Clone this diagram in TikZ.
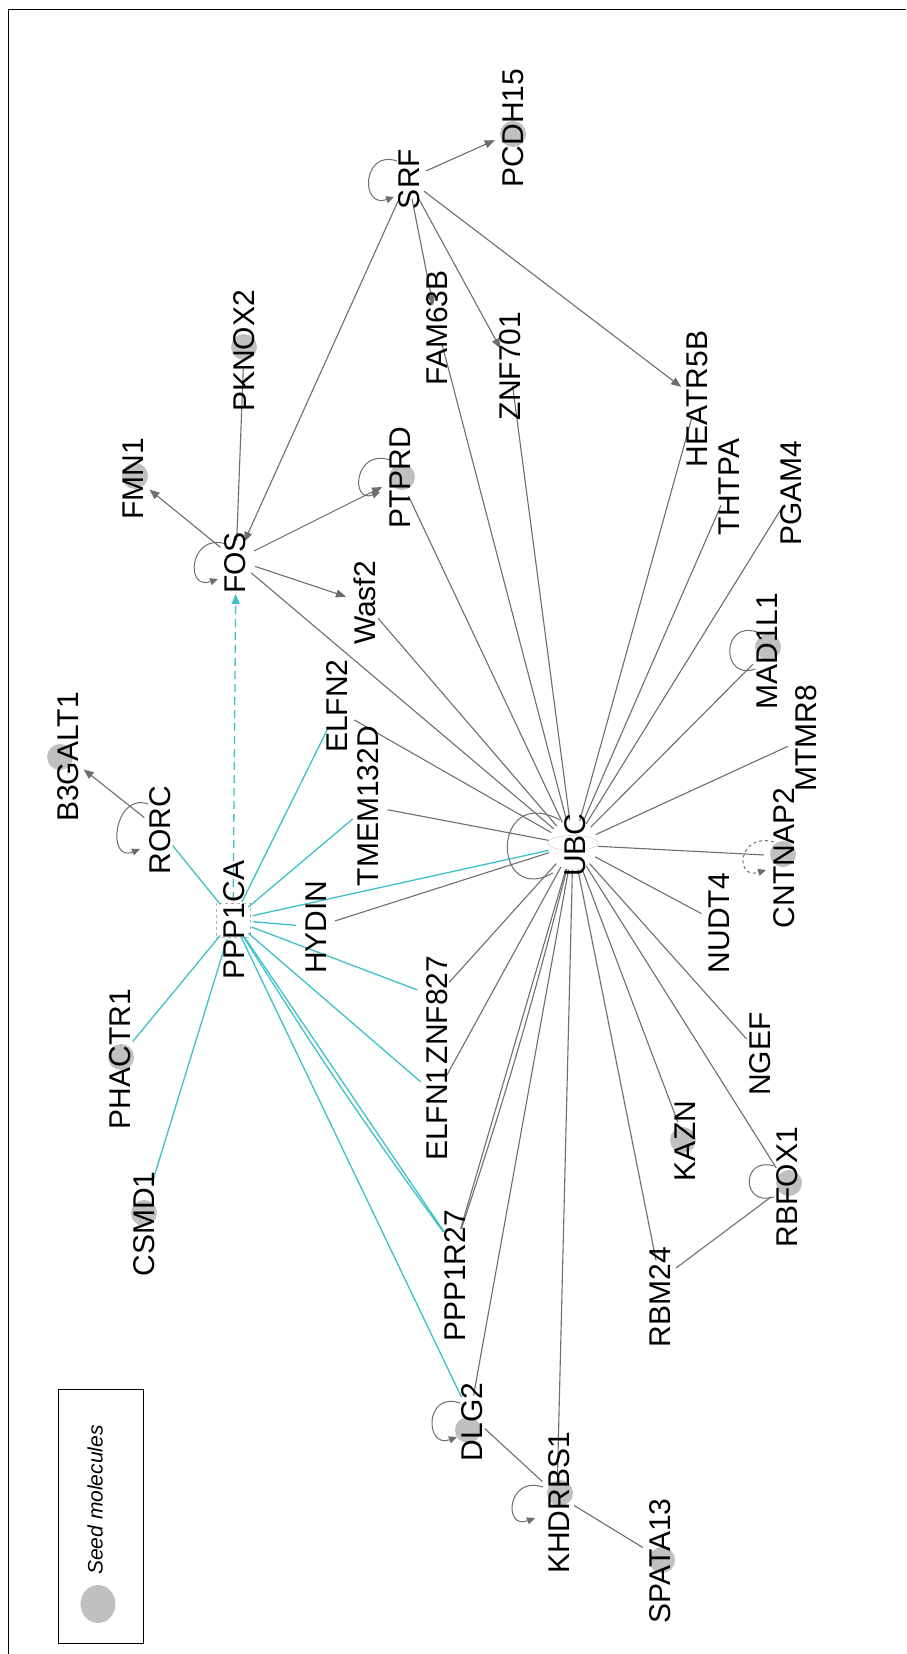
\documentclass[tikz,border=0pt]{standalone}
\usepackage{fontspec}
\setmainfont{Liberation Sans}
\usetikzlibrary{arrows.meta,shapes.geometric}
\definecolor{edgegray}{RGB}{110,110,110}
\definecolor{cyanedge}{RGB}{64,192,200}
\definecolor{seedgray}{RGB}{192,192,192}
\begin{document}
\begin{tikzpicture}[x=1pt,y=-1pt,
  mol/.style={circle,inner sep=0pt,outer sep=0pt,minimum size=40pt},
  bigmol/.style={circle,inner sep=0pt,outer sep=0pt,minimum size=50pt},
  lab/.style={rotate=90,inner sep=0pt,font=\fontsize{30}{36}\selectfont},
  seed/.style={circle,fill=seedgray,draw=none,minimum size=26pt,inner sep=0pt},
  gedge/.style={draw=edgegray,line width=1.1pt},
  cedge/.style={draw=cyanedge,line width=1.3pt},
  arr/.style={-{Triangle[length=10pt,width=8pt]}},
  lp/.style={draw=edgegray,line width=1pt},
  lparr/.style={-{Triangle[length=8pt,width=7pt]}},
]
\useasboundingbox (0,0) rectangle (906,1654);
\fill[white] (0,0) rectangle (906,1654);
% frame
\draw[line width=1.5pt] (8.7,1654) -- (8.7,9.3) -- (906,9.3);

% molecule anchors
\node[mol] (srf) at (408,179) {};
\node[mol] (pcdh15) at (513,132) {};
\node[mol] (pknox2) at (244,349) {};
\node[mol] (fam63b) at (437,325) {};
\node[mol] (znf701) at (510,366) {};
\node[mol] (heatr5b) at (697,399) {};
\node[mol] (fmn1) at (134,477) {};
\node[mol] (fos) at (236,560) {};
\node[mol] (ptprd) at (400,478) {};
\node[mol] (wasf2) at (365,603) {};
\node[mol] (thtpa) at (729,487) {};
\node[mol] (pgam4) at (791,493) {};
\node[mol] (b3galt1) at (68,757) {};
\node[mol] (elfn2) at (337,710) {};
\node[mol] (tmem) at (368,806) {};
\node[mol] (mad1l1) at (767,650) {};
\node[mol] (mtmr8) at (806,738) {};
\node[mol] (rorc) at (160,830) {};
\node[mol] (ppp1ca) at (233,920) {};
\node[mol] (hydin) at (316,927) {};
\node[bigmol] (ubc) at (573,845) {};
\node[mol] (cntnap2) at (784,856) {};
\node[mol] (nudt4) at (719,923) {};
\node[mol] (znf827) at (436,997) {};
\node[mol] (elfn1) at (436,1095) {};
\node[mol] (phactr1) at (120,1057) {};
\node[mol] (ngef) at (760,1054) {};
\node[mol] (kazn) at (685,1141) {};
\node[mol] (csmd1) at (146,1203) {};
\node[mol] (rbfox1) at (787,1185) {};
\node[mol] (ppp1r27) at (455,1248) {};
\node[mol] (rbm24) at (660,1280) {};
\node[mol] (dlg2) at (470,1415) {};
\node[mol] (khdrbs1) at (557,1495) {};
\node[mol] (spata13) at (660,1558) {};

% seed markers
\node[seed] (s-pcdh15) at (513,134) {};
\node[seed] (s-pknox2) at (244,347) {};
\node[seed] (s-fmn1) at (135,476) {};
\node[seed] (s-ptprd) at (402,477) {};
\node[seed] (s-b3galt1) at (60,757) {};
\node[seed] (s-mad1l1) at (768,647) {};
\node[seed] (s-cntnap2) at (783,854) {};
\node[seed] (s-phactr1) at (121,1057) {};
\node[seed] (s-csmd1) at (144,1213) {};
\node[seed] (s-kazn) at (683,1140) {};
\node[seed] (s-rbfox1) at (789,1183) {};
\node[seed] (s-dlg2) at (468,1430) {};
\node[seed] (s-khdrbs1) at (560,1493) {};
\node[seed] (s-spata13) at (662,1560) {};

% node symbols
\node[draw=gray!60,dashed,minimum size=34pt,inner sep=0pt] (ppp1ca-sym) at (233,920) {};
\node[ellipse,draw=gray!45,minimum width=50pt,minimum height=15pt,inner sep=0pt] (ubc-sym) at (573,843) {};

% SRF edges
\draw[gedge,arr] (srf) -- (pcdh15);
\draw[gedge,arr] (srf) -- (fos);
\draw[gedge,arr] (srf) -- (fam63b);
\draw[gedge,arr] (srf) -- (znf701);
\draw[gedge,arr] (srf) -- (heatr5b);
% FOS edges
\draw[gedge,arr] (fos) -- (fmn1);
\draw[gedge,arr] (fos) -- (ptprd);
\draw[gedge,arr] (fos) -- (wasf2);
\draw[gedge] (pknox2) -- (fos);
\draw[gedge] (fos) -- (ubc);
\draw[gedge,arr] (rorc) -- (b3galt1);

% UBC edges
\foreach \n in {wasf2,ptprd,fam63b,znf701,heatr5b,thtpa,pgam4,mad1l1,mtmr8,cntnap2,nudt4,ngef,rbfox1,kazn,rbm24,khdrbs1,dlg2,ppp1r27,elfn1,znf827,hydin,tmem,elfn2}
  \draw[gedge] (ubc) -- (\n);
\draw[gedge] (ubc) to[bend left=2] (ppp1r27);

% other gray edges
\draw[gedge] (rbfox1) -- (rbm24);
\draw[gedge] (dlg2) -- (khdrbs1);
\draw[gedge] (khdrbs1) -- (spata13);

% PPP1CA cyan edges
\foreach \n in {rorc,phactr1,csmd1,elfn2,tmem,ubc,hydin,znf827,elfn1,ppp1r27,dlg2}
  \draw[cedge] (ppp1ca) -- (\n);
\draw[cedge] (ppp1ca) to[bend right=2] (ppp1r27);
\draw[cedge,dashed,dash pattern=on 8pt off 5pt,-{Triangle[length=10pt,width=8pt]},shorten >=14pt] (ppp1ca) -- (fos);

% self loops
\draw[lp,lparr] ([shift={(-11,-18)}]srf.center) .. controls +(-35,-12) and +(-34,12) .. ([shift={(-14,18)}]srf.center);
\draw[lp,lparr] ([shift={(-10,-16)}]fos.center) .. controls +(-36,-12) and +(-34,12) .. ([shift={(-18,19)}]fos.center);
\draw[lp,lparr] ([shift={(-12,-26)}]rorc.center) .. controls +(-34,-12) and +(-34,14) .. ([shift={(-20,19)}]rorc.center);
\draw[lp,lparr] ([shift={(-10,-18)}]ptprd.center) .. controls +(-36,-12) and +(-30,12) .. ([shift={(-20,14)}]ptprd.center);
\draw[lp] ([shift={(-10,-18)}]mad1l1.center) .. controls +(-36,-12) and +(-34,12) .. ([shift={(-12,19)}]mad1l1.center);
\draw[lp,lparr,dashed] ([shift={(-10,-14)}]cntnap2.center) .. controls +(-36,-10) and +(-32,10) .. ([shift={(-18,14)}]cntnap2.center);
\draw[lp] ([shift={(-13,-19)}]rbfox1.center) .. controls +(-33,-10) and +(-33,10) .. ([shift={(-13,12)}]rbfox1.center);
\draw[lp,lparr] ([shift={(-10,-12)}]dlg2.center) .. controls +(-36,-12) and +(-32,12) .. ([shift={(-13,22)}]dlg2.center);
\draw[lp,lparr] ([shift={(-14,-8)}]khdrbs1.center) .. controls +(-36,-12) and +(-32,12) .. ([shift={(-22,23)}]khdrbs1.center);
\draw[lp] ([shift={(-13,-25)}]ubc.center) .. controls +(-69,-37) and +(-62,34) .. ([shift={(-20,28)}]ubc.center);

% labels
\node[lab] (l-srf) at (409,179) {SRF};
\node[lab] (l-pcdh15) at (513,128) {PCDH15};
\node[lab] (l-pknox2) at (244,351) {PKNOX2};
\node[lab] (l-fam63b) at (437,328) {FAM63B};
\node[lab] (l-znf701) at (510,366) {ZNF701};
\node[lab] (l-heatr5b) at (697,399) {HEATR5B};
\node[lab] (l-fmn1) at (133,479) {FMN1};
\node[lab] (l-fos) at (235,563) {FOS};
\node[lab] (l-ptprd) at (400,478) {PTPRD};
\node[lab] (l-wasf2) at (365,603) {Wasf2};
\node[lab] (l-thtpa) at (729,487) {THTPA};
\node[lab] (l-pgam4) at (791,493) {PGAM4};
\node[lab] (l-b3galt1) at (68,757) {B3GALT1};
\node[lab] (l-elfn2) at (337,706) {ELFN2};
\node[lab] (l-tmem) at (368,806) {TMEM132D};
\node[lab] (l-mad1l1) at (767,651) {MAD1L1};
\node[lab] (l-mtmr8) at (806,738) {MTMR8};
\node[lab] (l-rorc) at (160,830) {RORC};
\node[lab] (l-ppp1ca) at (234,920) {PPP1CA};
\node[lab] (l-hydin) at (316,927) {HYDIN};
\node[lab] (l-ubc) at (575,845) {UBC};
\node[lab] (l-cntnap2) at (784,858) {CNTNAP2};
\node[lab] (l-nudt4) at (719,923) {NUDT4};
\node[lab] (l-znf827) at (437,1010) {ZNF827};
\node[lab] (l-elfn1) at (437,1114) {ELFN1};
\node[lab] (l-phactr1) at (120,1059) {PHACTR1};
\node[lab] (l-ngef) at (760,1054) {NGEF};
\node[lab] (l-kazn) at (685,1141) {KAZN};
\node[lab] (l-csmd1) at (144,1224) {CSMD1};
\node[lab] (l-rbfox1) at (787,1187) {RBFOX1};
\node[lab] (l-ppp1r27) at (455,1276) {PPP1R27};
\node[lab] (l-rbm24) at (660,1297) {RBM24};
\node[lab] (l-dlg2) at (472,1422) {DLG2};
\node[lab] (l-khdrbs1) at (559,1503) {KHDRBS1};
\node[lab] (l-spata13) at (660,1561) {SPATA13};

% legend
\node[draw,line width=1pt,minimum width=85pt,minimum height=254pt,inner sep=0pt] (legend) at (100.5,1516) {};
\node[ellipse,fill=seedgray,minimum width=35pt,minimum height=38pt,inner sep=0pt] (legend-dot) at (98,1604) {};
\node[rotate=90,inner sep=0pt,font=\fontsize{21}{25}\selectfont\itshape] (legend-text) at (95,1500) {Seed molecules};
\end{tikzpicture}
\end{document}
